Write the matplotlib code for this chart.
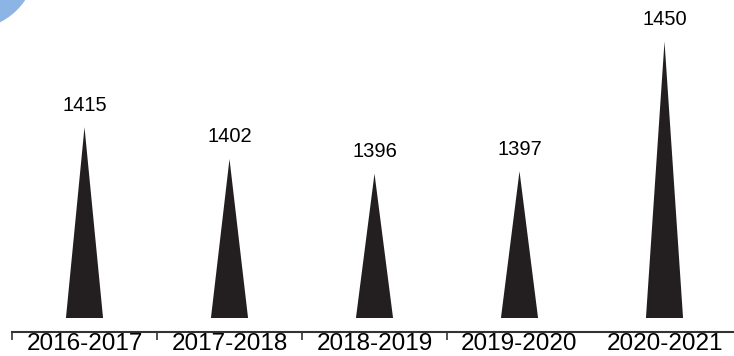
import matplotlib.pyplot as plt
from matplotlib.patches import Ellipse
import numpy as np

# Chart data
years = ['2016-2017', '2017-2018', '2018-2019', '2019-2020', '2020-2021']
counts = [1415, 1402, 1396, 1397, 1450]

plt.rcParams['font.family'] = ['Liberation Sans', 'DejaVu Sans']

fig = plt.figure(figsize=(7.34, 3.56), dpi=100)
ax = fig.add_axes([12 / 734, 38 / 356, 725 / 734, 318 / 356])

base = 1337
half_w = 0.128
x = np.arange(len(years))

# Spike (triangle) bars
for xi, val in zip(x, counts):
    ax.fill([xi - half_w, xi, xi + half_w], [base, val, base],
            color='#231f20', lw=0)
    ax.annotate(str(val), (xi, val), xytext=(0, 9), textcoords='offset points',
                ha='center', va='bottom', fontsize=14.5, color='black')

ax.set_xlim(-0.5, len(years) - 0.5)
ax.set_ylim(base, 1467)

for side in ['top', 'right', 'left']:
    ax.spines[side].set_visible(False)
ax.spines['bottom'].set_position(('outward', 10))
ax.spines['bottom'].set_color('#333333')
ax.spines['bottom'].set_linewidth(1.5)
ax.set_yticks([])

ax.set_xticks(x)
ax.set_xticklabels(years, fontsize=17.5, color='black')
ax.tick_params(axis='x', which='major', length=0, pad=0.5)
ax.set_xticks([-0.5, 0.5, 1.5, 2.5], minor=True)
ax.tick_params(axis='x', which='minor', length=6, width=1.2, color='#333333',
               direction='out')

# Blue corner decoration
fig.patches.append(Ellipse((-30 / 734, 1 + 37 / 356), 2 * 66.5 / 734, 2 * 66.5 / 356,
                           transform=fig.transFigure, color='#8cb4e4', lw=0))

fig.savefig('out.png', dpi=100)
